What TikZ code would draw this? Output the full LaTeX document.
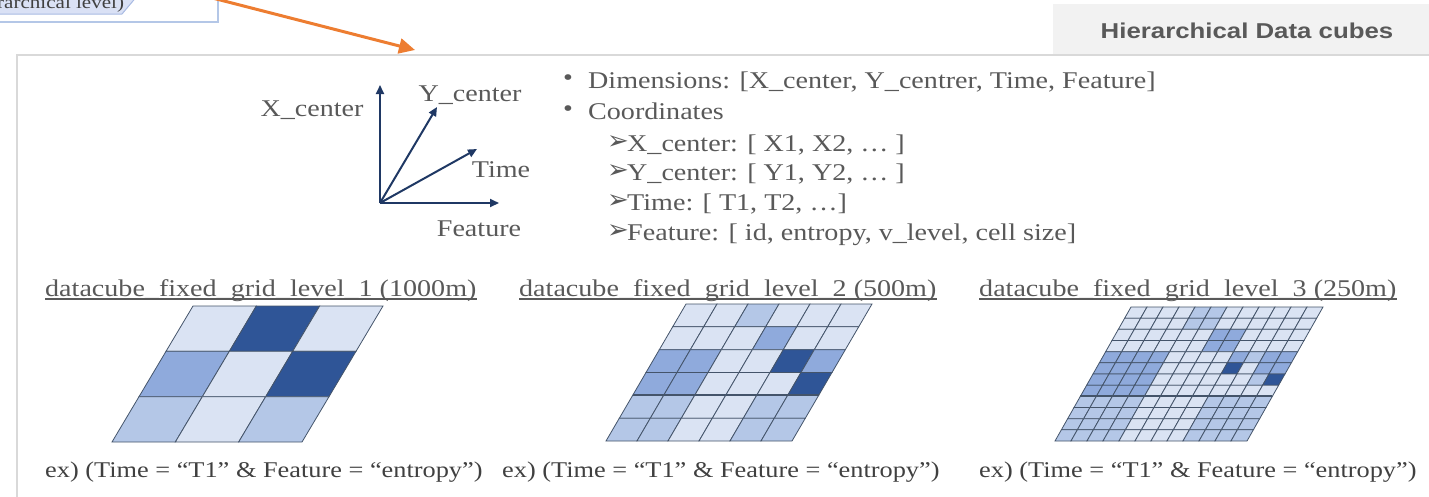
\documentclass[tikz,border=0pt]{standalone}
\usepackage{fontspec}
\setmainfont{Liberation Serif}[FakeStretch=1.17]
\newfontfamily\titlefont{Liberation Sans}[FakeStretch=1.2]
\newfontfamily\symfont{DejaVu Sans}
\usetikzlibrary{arrows.meta}
\definecolor{cL}{HTML}{DAE3F3}
\definecolor{cM}{HTML}{B4C7E7}
\definecolor{cN}{HTML}{8FAADC}
\definecolor{cD}{HTML}{2F5597}
\definecolor{gridln}{HTML}{44546A}
\definecolor{txtc}{HTML}{595959}
\definecolor{capc}{HTML}{404040}
\definecolor{navy}{HTML}{1F3864}
\definecolor{orng}{HTML}{ED7D31}
\definecolor{framec}{HTML}{D9D9D9}
\definecolor{tabc}{HTML}{F2F2F2}
\definecolor{shapefill}{HTML}{DAE1F5}
\definecolor{shapeln}{HTML}{A9BBE3}
\definecolor{outerln}{HTML}{B4C7E7}

\newcommand\drawgrid[7]{%
  \foreach \gr/\grow in {#7} {%
    \foreach \cc [count=\ci from 0] in \grow {%
      \pgfmathsetmacro\ax{#1+\ci*#3/#6-\gr*#5/#6}%
      \pgfmathsetmacro\ay{#2+\gr*#4/#6}%
      \filldraw[fill=c\cc,draw=gridln,line width=0.8]
        (\ax,\ay) -- ++({#3/#6},0) -- ++({-#5/#6},{#4/#6}) -- ++({-#3/#6},0) -- cycle;
    }%
  }%
}

\tikzset{
  txtst/.style={text=txtc, inner sep=0pt, font=\fontsize{24}{28}\selectfont},
  capst/.style={text=capc, inner sep=0pt, font=\fontsize{22.5}{26}\selectfont, anchor=base west},
  secst/.style={text=txtc, inner sep=0pt, font=\fontsize{24}{28}\selectfont, anchor=base west},
  arrsym/.style={text=txtc, inner sep=0pt, font=\symfont\fontsize{26}{26}\selectfont},
  axis/.style={draw=navy, line width=2, -{Triangle[length=9pt,width=8pt]}},
  ulin/.style={draw=txtc, line width=1.3},
}

\begin{document}
\begin{tikzpicture}[x=1pt,y=-1pt]
\useasboundingbox (0,0) rectangle (1429,496);
\clip (0,0) rectangle (1429,496);

% top-left partial shape
\fill[shapefill] (-5,-5) -- (138,-5) -- (122,14) -- (-5,14) -- cycle;
\draw[shapeln, line width=1] (138,-5) -- (122,14) -- (-5,14);
\draw[outerln, line width=1.5] (-5,22) -- (218,22) -- (218,-5);
\node[text=capc, inner sep=0pt, font=\fontsize{18}{20}\selectfont, anchor=base west] (prev) at (-3,8) {rarchical level)};

% frame and title tab
\fill[tabc] (1053,4) rectangle (1440,54);
\draw[framec, line width=2] (17,510) -- (17,55) -- (1440,55);
\node[text=txtc, inner sep=0pt, font=\titlefont\bfseries\fontsize{21.5}{24}\selectfont] (ttl) at (1247,31) {Hierarchical Data cubes};

% orange arrow
\coordinate (oa) at (193,-7);
\coordinate (ob) at (415,50);
\draw[orng, line width=3, -{Triangle[length=16pt,width=15pt]}] (oa) -- (ob);

% axes
\coordinate (O) at (380,203);
\coordinate (ax1) at (380,85);
\coordinate (ax2) at (437,107);
\coordinate (ax3) at (477,149);
\coordinate (ax4) at (499,203);
\draw[axis] (O) -- (ax1);
\draw[axis] (O) -- (ax2);
\draw[axis] (O) -- (ax3);
\draw[axis] (O) -- (ax4);
\node[txtst, anchor=base] (lx) at (312,116) {X\_center};
\node[txtst, anchor=base] (ly) at (470,101) {Y\_center};
\node[txtst, anchor=base] (lt) at (501,177) {Time};
\node[txtst, anchor=base] (lf) at (479,236) {Feature};

% bullet text
\node[txtst] (b1) at (568,80) {•};
\node[txtst, anchor=base west] (dim) at (588,88) {Dimensions: [X\_center, Y\_centrer, Time, Feature]};
\node[txtst] (b2) at (568,111) {•};
\node[txtst, anchor=base west] (crd) at (588,119) {Coordinates};
\node[arrsym] (s1) at (618,143) {➢};
\node[txtst, anchor=base west] (cx) at (627,151) {X\_center: [ X1, X2, … ]};
\node[arrsym] (s2) at (618,172) {➢};
\node[txtst, anchor=base west] (cy) at (627,180) {Y\_center: [ Y1, Y2, … ]};
\node[arrsym] (s3) at (618,202) {➢};
\node[txtst, anchor=base west] (ct) at (627,210) {Time: [ T1, T2, …]};
\node[arrsym] (s4) at (618,232) {➢};
\node[txtst, anchor=base west] (cf) at (627,240) {Feature: [ id, entropy, v\_level, cell size]};

% section titles
\node[secst] (t1) at (45,296) {datacube\_fixed\_grid\_level\_1 (1000m)};
\node[secst] (t2) at (519,296) {datacube\_fixed\_grid\_level\_2 (500m)};
\node[secst] (t3) at (979,296) {datacube\_fixed\_grid\_level\_3 (250m)};
\draw[ulin] ([yshift=-3pt]t1.base west) -- ([yshift=-3pt]t1.base east);
\draw[ulin] ([yshift=-3pt]t2.base west) -- ([yshift=-3pt]t2.base east);
\draw[ulin] ([yshift=-3pt]t3.base west) -- ([yshift=-3pt]t3.base east);

% grids
\drawgrid{193}{306}{190}{136}{81}{3}{0/{L,D,L},1/{N,L,D},2/{M,L,M}}
\drawgrid{686}{304}{186}{137}{80}{6}{%
0/{L,L,M,L,L,L},1/{L,L,L,N,L,L},2/{N,N,L,L,D,N},3/{N,N,L,L,L,D},4/{M,M,L,L,M,M},5/{M,M,L,L,M,M}}
\draw[gridln, line width=1.8] ({686-4*80/6},{304+4*137/6}) -- ++(186,0);
\drawgrid{1131}{307}{192}{134}{76}{12}{%
0/{L,L,L,L,M,M,L,L,L,L,L,L},%
1/{L,L,L,L,M,M,L,L,L,L,L,L},%
2/{L,L,L,L,L,L,N,N,L,L,L,L},%
3/{L,L,L,L,L,L,N,N,L,L,L,L},%
4/{N,N,N,N,L,L,L,L,N,M,N,N},%
5/{N,N,N,N,L,L,L,L,D,L,N,N},%
6/{N,N,N,N,L,L,L,L,L,L,M,D},%
7/{N,N,N,N,L,L,L,L,L,L,L,L},%
8/{M,M,M,M,L,L,L,L,M,M,M,M},%
9/{M,M,M,M,L,L,L,L,M,M,M,M},%
10/{M,M,M,M,L,L,L,L,M,M,M,M},%
11/{M,M,M,M,L,L,L,L,M,M,M,M}}
\draw[gridln, line width=1.8] ({1131-8*76/12},{307+8*134/12}) -- ++(192,0);

% captions
\node[capst] (e1) at (45,477) {ex) (Time = “T1” \& Feature = “entropy”)};
\node[capst] (e2) at (502,477) {ex) (Time = “T1” \& Feature = “entropy”)};
\node[capst] (e3) at (979,477) {ex) (Time = “T1” \& Feature = “entropy”)};
\end{tikzpicture}
\end{document}
